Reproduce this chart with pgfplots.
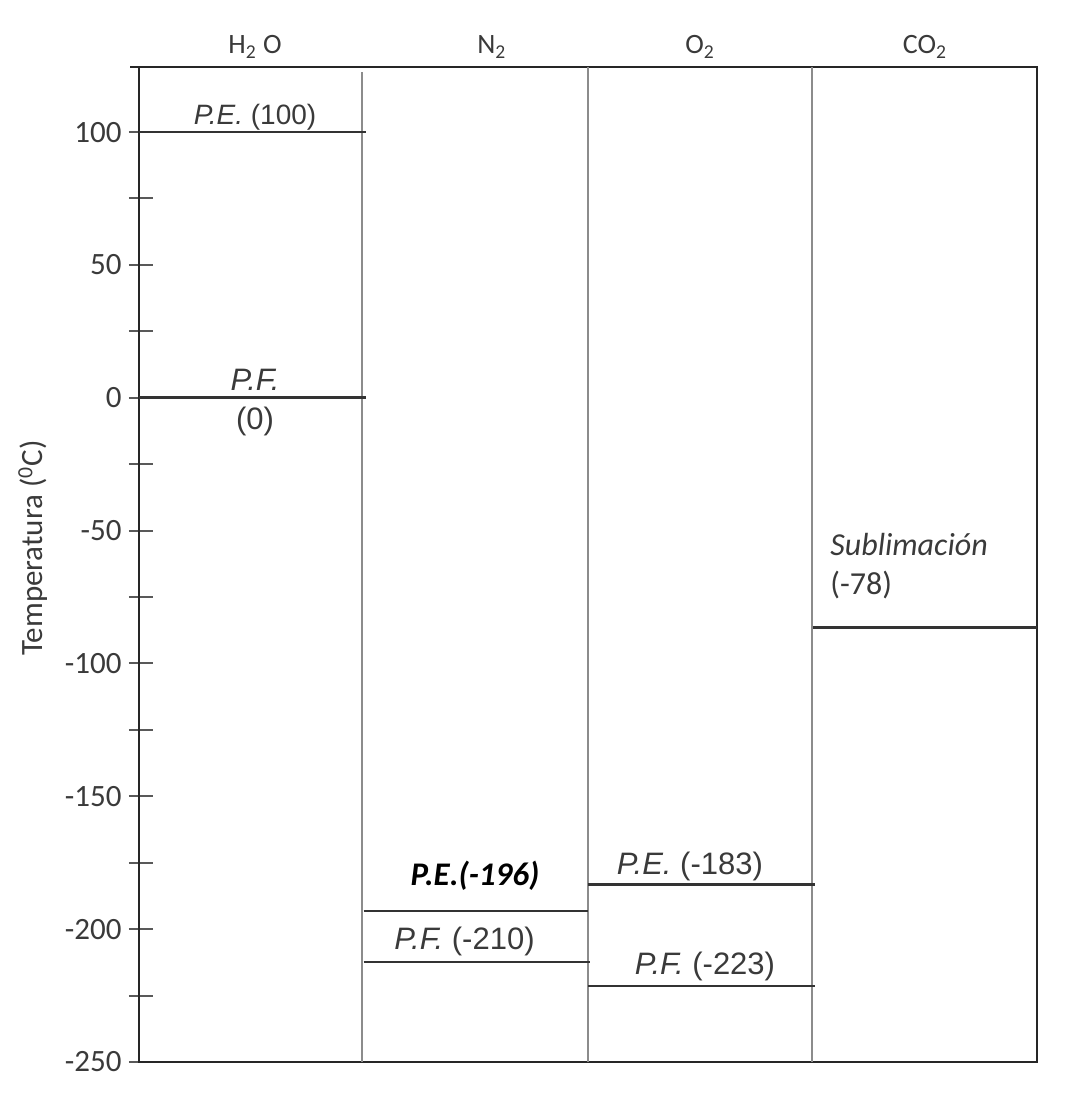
\documentclass[border=0pt]{standalone}
\usepackage{fontspec}
\setmainfont{Carlito}
\newfontfamily\arial{Liberation Sans}
\usepackage{pgfplots}
\pgfplotsset{compat=1.18}
\definecolor{txt}{HTML}{3A3A3A}
\definecolor{lvl}{HTML}{333333}
\definecolor{divc}{HTML}{8C8C8C}
\begin{document}
\begin{tikzpicture}
\path[use as bounding box] (-69.5pt,-20pt) rectangle (469.5pt,531pt);
\begin{axis}[
  scale only axis, width=449pt, height=497.5pt,
  xmin=0, xmax=4, ymin=-250, ymax=124.5,
  xtick=\empty,
  ytick={-250,-225,-200,-175,-150,-125,-100,-75,-50,-25,0,25,50,75,100},
  yticklabels={-250,{},-200,{},-150,{},-100,{},-50,{},0,{},50,{},100},
  ytick pos=left,
  tick align=center, major tick length=12pt,
  ytick style={line width=1pt, color=black!65, xshift=1pt},
  yticklabel style={font=\fontsize{15.5}{18}\selectfont, text=txt, xshift=0.8pt},
  axis line style={line width=1.4pt, color=black!85},
  clip=false,
]
% column dividers
\addplot[divc, line width=1pt, no marks] coordinates {(0.993,-250) (0.993,122.5)};
\addplot[divc, line width=1pt, no marks] coordinates {(2,-250) (2,124.5)};
\addplot[divc, line width=1pt, no marks] coordinates {(2.997,-250) (2.997,124.5)};
% level lines
\addplot[lvl, line width=1.3pt, no marks] coordinates {(0,100) (1.01,100)};
\addplot[lvl, line width=1.3pt, no marks] coordinates {(0,0) (1.01,0)};
\addplot[lvl, line width=1.3pt, no marks] coordinates {(1,-193.2) (2,-193.2)};
\addplot[lvl, line width=1.3pt, no marks] coordinates {(1,-212.4) (2.01,-212.4)};
\addplot[lvl, line width=1.3pt, no marks] coordinates {(2,-183.1) (3.01,-183.1)};
\addplot[lvl, line width=1.3pt, no marks] coordinates {(2,-221.4) (3.01,-221.4)};
\addplot[lvl, line width=1.3pt, no marks] coordinates {(3,-86.4) (4,-86.4)};
% top line stub
\draw[line width=1.4pt, black!85] (rel axis cs:-0.01,1) -- (rel axis cs:0,1);
% headers
\node[text=txt, font=\fontsize{14}{16}\selectfont] at (axis cs:0.517,132) {H\textsubscript{2} O};
\node[text=txt, font=\fontsize{14}{16}\selectfont] at (axis cs:1.572,132) {N\textsubscript{2}};
\node[text=txt, font=\fontsize{14}{16}\selectfont] at (axis cs:2.499,132) {O\textsubscript{2}};
\node[text=txt, font=\fontsize{14}{16}\selectfont] at (axis cs:3.501,132) {CO\textsubscript{2}};
% annotations
\node[text=txt, font=\arial\fontsize{14}{16}\selectfont] at (axis cs:0.517,105.6) {\textit{P.E.} (100)};
\node[text=txt, font=\arial\fontsize{15.5}{18}\selectfont] at (axis cs:0.517,6.8) {\textit{P.F.}};
\node[text=txt, font=\arial\fontsize{15.5}{18}\selectfont] at (axis cs:0.517,-9) {(0)};
\node[text=black, font=\bfseries\itshape\fontsize{16.5}{19}\selectfont] at (axis cs:1.497,-180) {P.E.(-196)};
\node[text=txt, font=\arial\fontsize{15.5}{18}\selectfont] at (axis cs:1.45,-204.5) {\textit{P.F.} (-210)};
\node[text=txt, font=\arial\fontsize{15.5}{18}\selectfont] at (axis cs:2.454,-176.5) {\textit{P.E.} (-183)};
\node[text=txt, font=\arial\fontsize{15.5}{18}\selectfont] at (axis cs:2.521,-214) {\textit{P.F.} (-223)};
\node[anchor=west, inner sep=0pt, text=txt, font=\itshape\fontsize{16}{19}\selectfont] at (axis cs:3.078,-55.3) {Sublimación};
\node[anchor=west, inner sep=0pt, text=txt, font=\fontsize{16}{19}\selectfont] at (axis cs:3.078,-70.3) {(-78)};
% y label
\node[rotate=90, text=txt, font=\fontsize{15.5}{18}\selectfont] at (rel axis cs:-0.118,0.5166) {Temperatura (\textsuperscript{0}C)};
\end{axis}
\end{tikzpicture}
\end{document}
